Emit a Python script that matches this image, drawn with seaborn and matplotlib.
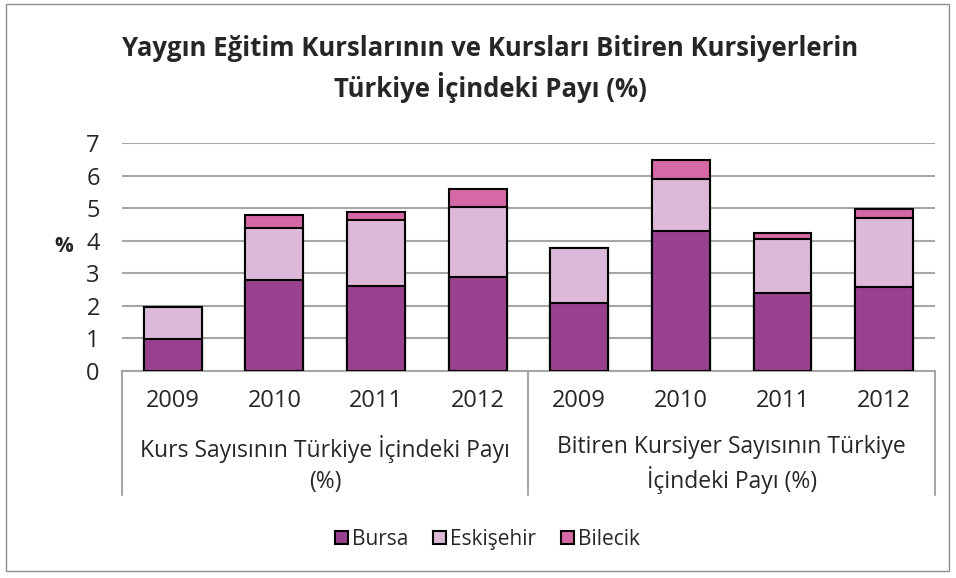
import matplotlib
matplotlib.use('Agg')
import matplotlib.pyplot as plt
import seaborn as sns
import pandas as pd
import numpy as np
from matplotlib.patches import Rectangle, Patch

# Chart data
years = ['2009', '2010', '2011', '2012', '2009', '2010', '2011', '2012']
groups = ['Kurs Sayısının Türkiye İçindeki Payı\n(%)',
          'Bitiren Kursiyer Sayısının Türkiye\nİçindeki Payı (%)']
bursa = [0.97, 2.81, 2.60, 2.89, 2.10, 4.29, 2.39, 2.57]
eskisehir = [1.01, 1.59, 2.05, 2.16, 1.67, 1.61, 1.67, 2.13]
bilecik = [0.00, 0.40, 0.24, 0.53, 0.00, 0.57, 0.17, 0.28]
series = ['Bursa', 'Eskişehir', 'Bilecik']
colors = ['#99408F', '#DCB9D9', '#D668A5']

sns.set_style('white')
plt.rcParams['font.family'] = ['Open Sans', 'DejaVu Sans']

df = pd.DataFrame({'pos': range(8), 'Bursa': bursa,
                   'Eskişehir': eskisehir, 'Bilecik': bilecik})
df['s1'] = df['Bursa']
df['s2'] = df['s1'] + df['Eskişehir']
df['s3'] = df['s2'] + df['Bilecik']

fig = plt.figure(figsize=(9.56, 5.78), dpi=100)
ax = fig.add_axes([0.1276, 0.358, 0.8504, 0.3946])

# stacked bars: draw the cumulative totals from the top down
for col, c in zip(['s3', 's2', 's1'], colors[::-1]):
    sns.barplot(data=df, x='pos', y=col, color=c, width=0.57,
                edgecolor='black', linewidth=1.5, saturation=1, ax=ax, zorder=3)

ax.set_ylim(0, 7)
ax.set_xlim(-0.5, 7.5)
ax.set_yticks(range(8))
ax.yaxis.grid(True, color='#A6A6A6', linewidth=1.5, zorder=0)
ax.set_axisbelow(True)
for s in ['top', 'right', 'left']:
    ax.spines[s].set_visible(False)
ax.spines['bottom'].set_color('#A6A6A6')
ax.spines['bottom'].set_linewidth(1.5)
ax.tick_params(axis='y', length=0, pad=16, labelsize=17)
ax.set_xticks([])
ax.set_xlabel('')
ax.set_ylabel('%', fontsize=15, fontweight='bold', rotation=0)
ax.yaxis.set_label_coords(-0.072, 0.5)

# multi-level category axis
trans = ax.get_xaxis_transform()
for xv in [-0.5, 3.5, 7.5]:
    ax.plot([xv, xv], [0, -0.545], transform=trans, color='#A6A6A6',
            linewidth=1.5, clip_on=False)
for i, y in enumerate(years):
    ax.text(i, -0.13, y, transform=trans, ha='center', va='center', fontsize=17)
for i, g in enumerate(groups):
    ax.text(1.5 + 4 * i, -0.41, g, transform=trans, ha='center', va='center',
            fontsize=16.5, linespacing=1.35)

fig.text(0.513, 0.88,
         'Yaygın Eğitim Kurslarının ve Kursları Bitiren Kursiyerlerin\nTürkiye İçindeki Payı (%)',
         ha='center', va='center', fontsize=18.5, fontweight='bold', linespacing=1.4)

handles = [Patch(facecolor=c, edgecolor='black', linewidth=1.5) for c in colors]
fig.legend(handles, series, loc='center', bbox_to_anchor=(0.51, 0.067), ncol=3,
           frameon=False, fontsize=15, handlelength=0.6, handleheight=0.6,
           handletextpad=0.2, columnspacing=1.2)

fig.patches.append(Rectangle((0.006, 0.012), 0.987, 0.981, transform=fig.transFigure,
                             fill=False, edgecolor='#8C8C8C', linewidth=1))

fig.savefig('out.png', dpi=100)
